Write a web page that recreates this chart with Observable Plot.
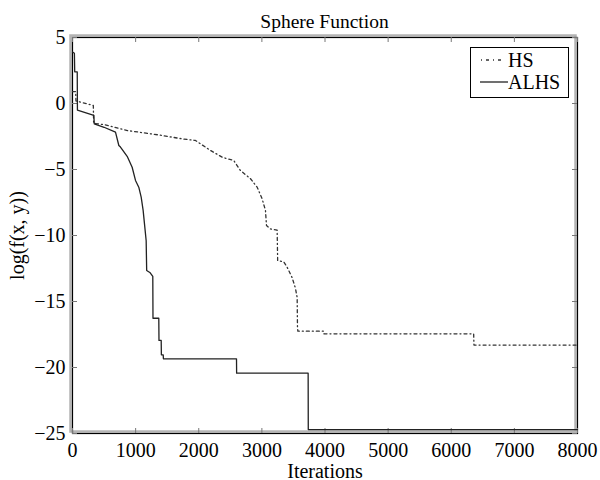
<!DOCTYPE html>
<html><head><meta charset="utf-8">
<script src="https://cdn.jsdelivr.net/npm/d3@7"></script>
<script src="https://cdn.jsdelivr.net/npm/@observablehq/plot@0.6"></script>
<style>
body{margin:0;background:#fff;font-family:"Liberation Serif","Times New Roman",serif;}
#wrap{position:relative;width:600px;height:480px;}
#title{height:20px;line-height:20px;padding-top:12px;padding-left:49px;font-size:19.5px;text-align:center;color:#000;}
#legend{position:absolute;left:470px;top:47px;}
</style>
</head><body>
<div id="wrap">
<div id="title">Sphere Function</div>
<div id="chart"></div>
<div id="legend"></div>
</div>
<script>
const seriesNames = ["HS", "ALHS"];
const hsIter  = [0, 50, 55, 330, 335, 500, 871, 1394, 1737, 1948, 2186, 2371, 2555, 2661, 2820, 2925, 3004, 3057, 3073, 3136, 3242, 3250, 3347, 3400, 3480, 3532, 3559, 3564, 3570, 3980, 3985, 6355, 6360, 8000];
const hsValue = [0.9, 0.9, 0.2, -0.15, -1.5, -1.6, -2.05, -2.4, -2.68, -2.8, -3.56, -4.07, -4.32, -5.08, -5.7, -6.34, -7.22, -8.1, -9.24, -9.5, -9.6, -11.9, -12.0, -12.4, -13.2, -14.0, -14.7, -16.95, -17.25, -17.25, -17.45, -17.45, -18.3, -18.3];
const alhsIter  = [0, 30, 35, 75, 78, 338, 345, 500, 681, 734, 760, 866, 945, 998, 1050, 1088, 1119, 1140, 1167, 1175, 1225, 1272, 1275, 1367, 1370, 1405, 1408, 1437, 1440, 2598, 2600, 3733, 3735, 8000];
const alhsValue = [3.9, 3.8, 2.4, 2.4, -0.5, -0.9, -1.55, -1.8, -2.17, -3.18, -3.3, -4.0, -4.83, -5.83, -6.34, -7.1, -8.1, -9.1, -10.4, -12.65, -12.8, -13.1, -16.27, -16.27, -17.95, -17.95, -19.04, -19.04, -19.34, -19.34, -20.43, -20.43, -24.7, -24.7];
const xTicks = [0, 1000, 2000, 3000, 4000, 5000, 6000, 7000, 8000];
const yTicks = [5, 0, -5, -10, -15, -20, -25];

const hs = hsIter.map((x, i) => ({x, y: hsValue[i], s: seriesNames[0]}));
const alhs = alhsIter.map((x, i) => ({x, y: alhsValue[i], s: seriesNames[1]}));

const W = 600, H = 448, mt = 5, mb = 47, ml = 72, mr = 23;
const fh = H - mt - mb, fw = W - ml - mr;
const tick = 5;

const chart = Plot.plot({
  width: W, height: H,
  marginTop: mt, marginBottom: mb, marginLeft: ml, marginRight: mr,
  style: {fontFamily: "Liberation Serif", fontSize: "20px", color: "#000", background: "#fff", overflow: "visible"},
  x: {domain: [0, 8000]},
  y: {domain: [-25, 5]},
  marks: [
    Plot.frame({stroke: "#b4b4b4", strokeWidth: 2.5, dx: -2, dy: -2}),
    Plot.frame({stroke: "#000", strokeWidth: 1.2}),
    Plot.tickX(xTicks, {x: d => d, insetTop: fh - tick, stroke: "#777"}),
    Plot.tickX(xTicks, {x: d => d, insetBottom: fh - tick, stroke: "#777"}),
    Plot.tickY(yTicks, {y: d => d, insetRight: fw - tick, stroke: "#777"}),
    Plot.tickY(yTicks, {y: d => d, insetLeft: fw - tick, stroke: "#777"}),
    Plot.axisX({ticks: xTicks, tickSize: 0, tickPadding: 9, tickFormat: "d", label: "Iterations", labelAnchor: "center", labelArrow: "none", labelOffset: 44}),
    Plot.axisY({ticks: yTicks, tickSize: 0, tickPadding: 7, tickFormat: "d", label: "log(f(x, y))", labelAnchor: "center", labelArrow: "none", labelOffset: 63}),
    Plot.line(hs, {x: "x", y: "y", stroke: "#333", strokeWidth: 1.3, strokeDasharray: "3,3,1,3"}),
    Plot.line(alhs, {x: "x", y: "y", stroke: "#222", strokeWidth: 1.3})
  ]
});
document.getElementById("chart").appendChild(chart);

// legend
const ns = "http://www.w3.org/2000/svg";
const lg = document.createElementNS(ns, "svg");
lg.setAttribute("width", 100); lg.setAttribute("height", 52);
lg.style.fontFamily = "Liberation Serif"; lg.style.fontSize = "20px";
lg.innerHTML = `
<rect x="0.5" y="0.5" width="98" height="50" fill="#fff" stroke="#000" stroke-width="1"/>
<line x1="11" x2="35" y1="13" y2="13" stroke="#333" stroke-width="1.3" stroke-dasharray="1,4,3,4"/>
<text x="38" y="20">${seriesNames[0]}</text>
<line x1="10" x2="38" y1="35" y2="35" stroke="#222" stroke-width="1.3"/>
<text x="38" y="42">${seriesNames[1]}</text>`;
document.getElementById("legend").appendChild(lg);
</script>
</body></html>
